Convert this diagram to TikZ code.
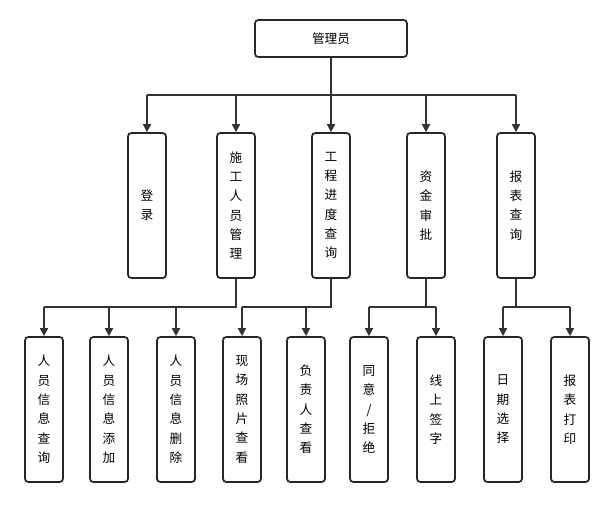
\documentclass[tikz,border=0pt]{standalone}
\usepackage{fontspec}
\setmainfont{Noto Sans CJK SC}
\usetikzlibrary{arrows.meta}
\begin{document}
\begin{tikzpicture}[x=0.75pt,y=-0.75pt,
  box/.style={draw=black!85,line width=1.3pt,rounded corners=2.5pt,fill=white,inner sep=0pt,font=\fontsize{9.5}{14.5}\selectfont,align=center},
  tall/.style={box,minimum width=28.5pt,minimum height=108.75pt},
  conn/.style={draw=black!80,line width=1.3pt,-{Triangle[length=6pt,width=6pt]}},
  ln/.style={draw=black!80,line width=1.3pt}]
\useasboundingbox (0,0) rectangle (605,506);
\node[box,minimum width=114pt,minimum height=27.75pt] (root) at (331,38.5) {管理员};
\foreach \n/\x/\t in {a/147/登\\录, b/236/施\\工\\人\\员\\管\\理, c/331/工\\程\\进\\度\\查\\询, d/426/资\\金\\审\\批, e/516/报\\表\\查\\询}
  \node[tall] (\n) at (\x,205.5) {\t};
\foreach \n/\x/\t in {b1/44/人\\员\\信\\息\\查\\询, b2/109/人\\员\\信\\息\\添\\加, b3/176/人\\员\\信\\息\\删\\除, c1/242/现\\场\\照\\片\\查\\看, c2/306/负\\责\\人\\查\\看, d1/369/同\\意\\{/}\\拒\\绝, d2/436/线\\上\\签\\字, e1/503/日\\期\\选\\择, e2/570/报\\表\\打\\印}
  \node[tall] (\n) at (\x,409.5) {\t};
\coordinate (bus) at (0,95);
\draw[ln] (root.south) -- (root.south |- bus);
\draw[ln] (a.north |- bus) -- (e.north |- bus);
\foreach \n in {a,b,c,d,e} \draw[conn] (\n.north |- bus) -- (\n.north);
\coordinate (low) at (0,307);
\draw[ln] (b.south) -- (b.south |- low) -- (b1.north |- low);
\foreach \n in {b1,b2,b3} \draw[conn] (\n.north |- low) -- (\n.north);
\draw[ln] (c.south) -- (c.south |- low) -- (c1.north |- low);
\foreach \n in {c1,c2} \draw[conn] (\n.north |- low) -- (\n.north);
\draw[ln] (d.south) -- (d.south |- low);
\draw[ln] (d1.north |- low) -- (d2.north |- low);
\foreach \n in {d1,d2} \draw[conn] (\n.north |- low) -- (\n.north);
\draw[ln] (e.south) -- (e.south |- low);
\draw[ln] (e1.north |- low) -- (e2.north |- low);
\foreach \n in {e1,e2} \draw[conn] (\n.north |- low) -- (\n.north);
\end{tikzpicture}
\end{document}
